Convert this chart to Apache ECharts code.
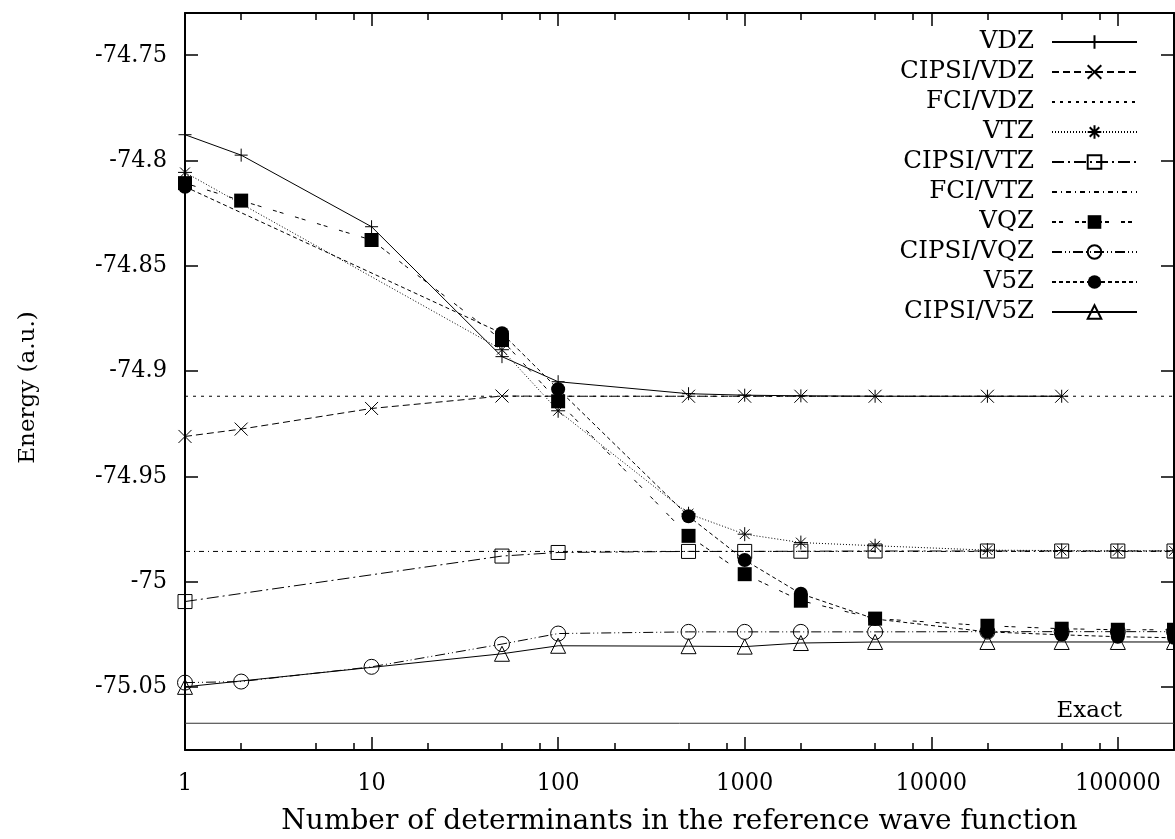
<!DOCTYPE html>
<html><head><meta charset="utf-8">
<script src="https://cdn.jsdelivr.net/npm/echarts@6/dist/echarts.min.js"></script>
<style>html,body{margin:0;padding:0;background:#fff}#chart{width:1175px;height:839px}</style>
</head><body><div id="chart"></div>
<script>
// ---------------- data ----------------
const VDZ_x = [1, 2, 10, 50, 100, 500, 1000, 2000, 5000, 20000, 50000];
const VDZ_y = [-74.7878, -74.7975, -74.8315, -74.8932, -74.9051, -74.9108, -74.9115, -74.9118, -74.912, -74.912, -74.912];

const CIPSI_VDZ_x = [1, 2, 10, 50, 100, 500, 1000, 2000, 5000, 20000, 50000];
const CIPSI_VDZ_y = [-74.9311, -74.9276, -74.9178, -74.9119, -74.912, -74.912, -74.912, -74.912, -74.912, -74.912, -74.912];

const FCI_VDZ = -74.912;

const VTZ_x = [1, 50, 100, 500, 1000, 2000, 5000, 20000, 50000, 100000, 200000];
const VTZ_y = [-74.8057, -74.8899, -74.9189, -74.9678, -74.9775, -74.9815, -74.9830, -74.9851, -74.9853, -74.9854, -74.9854];

const CIPSI_VTZ_x = [1, 50, 100, 500, 1000, 2000, 5000, 20000, 50000, 100000, 200000];
const CIPSI_VTZ_y = [-75.0095, -74.9879, -74.9862, -74.9857, -74.9857, -74.9856, -74.9855, -74.9855, -74.9855, -74.9855, -74.9855];

const FCI_VTZ = -74.9857;

const VQZ_x = [1, 2, 10, 50, 100, 500, 1000, 2000, 5000, 20000, 50000, 100000, 200000];
const VQZ_y = [-74.8108, -74.8191, -74.8378, -74.8853, -74.9144, -74.9783, -74.9965, -75.0091, -75.0176, -75.0210, -75.0224, -75.0229, -75.0229];

const CIPSI_VQZ_x = [1, 2, 10, 50, 100, 500, 1000, 2000, 5000, 20000, 50000, 100000, 200000];
const CIPSI_VQZ_y = [-75.048, -75.0475, -75.0405, -75.0297, -75.0247, -75.0239, -75.0239, -75.0239, -75.0239, -75.0238, -75.0238, -75.0238, -75.0238];

const V5Z_x = [1, 50, 100, 500, 1000, 2000, 5000, 20000, 50000, 100000, 200000];
const V5Z_y = [-74.8125, -74.8821, -74.9086, -74.969, -74.9898, -75.0058, -75.0178, -75.0239, -75.0253, -75.0262, -75.0267];

const CIPSI_V5Z_x = [1, 50, 100, 500, 1000, 2000, 5000, 20000, 50000, 100000, 200000];
const CIPSI_V5Z_y = [-75.05, -75.0343, -75.0305, -75.0307, -75.0309, -75.0292, -75.0287, -75.0287, -75.0287, -75.0287, -75.0287];

const EXACT = -75.0673;
const EXACT_LABEL = 'Exact';

const X_RANGE = [1, 200000];
const Y_RANGE = [-75.08, -74.73];
const X_MAJOR_TICKS = [1, 10, 100, 1000, 10000, 100000];
const X_MINOR_TICKS = [2, 5, 8, 20, 50, 80, 200, 500, 800, 2000, 5000, 8000, 20000, 50000, 80000];
const Y_TICKS = [-75.05, -75, -74.95, -74.9, -74.85, -74.8, -74.75];

const X_TITLE = 'Number of determinants in the reference wave function';
const Y_TITLE = 'Energy (a.u.)';

// ---------------- styling ----------------
const FONT = 'DejaVu Serif';
const TICK_FONT = "'DejaVu Serif Condensed', 'DejaVu Serif'";
const BLACK = '#000';
const SYM_PLUS = 'path://M0,5L10,5M5,0L5,10';
const SYM_CROSS = 'path://M0,0L10,10M10,0L0,10';
const SYM_STAR = 'path://M0,5L10,5M5,0L5,10M1.5,1.5L8.5,8.5M8.5,1.5L1.5,8.5';

function pairs(xs, ys) { return xs.map((x, i) => [x, ys[i]]); }

function mkSeries(name, data, dash, symbol, filled, size) {
  return {
    name, type: 'line', data, xAxisIndex: 0, yAxisIndex: 0,
    lineStyle: { color: BLACK, width: 1, type: dash },
    symbol: symbol || 'none', symbolSize: size || 14, showSymbol: !!symbol,
    itemStyle: filled
      ? { color: BLACK, borderColor: BLACK, borderWidth: 0 }
      : { color: 'rgba(0,0,0,0)', borderColor: BLACK, borderWidth: 1 },
    emphasis: { disabled: true }, silent: true, animation: false,
    clip: false
  };
}

const exactSeries = mkSeries(EXACT_LABEL, pairs(X_RANGE, [EXACT, EXACT]), 'solid', null);
exactSeries.lineStyle.color = '#333';
exactSeries.endLabel = {
  show: true, formatter: EXACT_LABEL, align: 'right', verticalAlign: 'bottom',
  distance: 0, offset: [-52, -1], fontFamily: FONT, fontSize: 23, color: BLACK
};

const series = [
  mkSeries('VDZ', pairs(VDZ_x, VDZ_y), 'solid', SYM_PLUS, false, 13),
  mkSeries('CIPSI/VDZ', pairs(CIPSI_VDZ_x, CIPSI_VDZ_y), [7, 4], SYM_CROSS, false, 13),
  mkSeries('FCI/VDZ', pairs(X_RANGE, [FCI_VDZ, FCI_VDZ]), [3, 5], null),
  mkSeries('VTZ', pairs(VTZ_x, VTZ_y), [1, 2], SYM_STAR, false, 14),
  mkSeries('CIPSI/VTZ', pairs(CIPSI_VTZ_x, CIPSI_VTZ_y), [12, 4, 2, 4], 'rect', false, 14),
  mkSeries('FCI/VTZ', pairs(X_RANGE, [FCI_VTZ, FCI_VTZ]), [5, 4, 1, 4], null),
  mkSeries('VQZ', pairs(VQZ_x, VQZ_y), [4, 3, 4, 12], 'rect', true, 14),
  mkSeries('CIPSI/VQZ', pairs(CIPSI_VQZ_x, CIPSI_VQZ_y), [10, 3, 1, 3, 1, 3], 'circle', false, 15),
  mkSeries('V5Z', pairs(V5Z_x, V5Z_y), [4, 3], 'circle', true, 14),
  mkSeries('CIPSI/V5Z', pairs(CIPSI_V5Z_x, CIPSI_V5Z_y), 'solid', 'triangle', false, 15),
  exactSeries
];

const legendNames = ['VDZ', 'CIPSI/VDZ', 'FCI/VDZ', 'VTZ', 'CIPSI/VTZ', 'FCI/VTZ', 'VQZ', 'CIPSI/VQZ', 'V5Z', 'CIPSI/V5Z'];
const noSymbol = { 'FCI/VDZ': 1, 'FCI/VTZ': 1 };

const axisLineStyle = { color: BLACK, width: 2 };
const tickStyle = { color: BLACK, width: 1.5 };
const baseX = { type: 'log', logBase: 10, min: X_RANGE[0], max: X_RANGE[1], splitLine: { show: false }, gridIndex: 0 };
const baseY = { type: 'value', min: Y_RANGE[0], max: Y_RANGE[1], splitLine: { show: false }, gridIndex: 0 };

const option = {
  animation: false,
  backgroundColor: '#fff',
  grid: { left: 185, right: 1, top: 13, bottom: 89, containLabel: false, outerBoundsMode: 'none' },
  legend: {
    orient: 'vertical', right: 37, top: 27, padding: 0, align: 'right',
    itemWidth: 85, itemHeight: 17, itemGap: 0, selectedMode: false,
    textStyle: { fontFamily: FONT, fontSize: 24.5, color: BLACK, lineHeight: 30, padding: [0, 13, 0, 0] },
    data: legendNames.map(n => noSymbol[n]
      ? { name: n, itemStyle: { color: 'rgba(0,0,0,0)', borderColor: 'rgba(0,0,0,0)', borderWidth: 0 } }
      : { name: n })
  },
  xAxis: [
    Object.assign({}, baseX, {
      position: 'bottom',
      axisLine: { show: true, onZero: false, lineStyle: axisLineStyle },
      axisTick: { show: true, inside: true, length: 13, lineStyle: tickStyle, customValues: X_MAJOR_TICKS },
      axisLabel: { show: true, customValues: X_MAJOR_TICKS, formatter: v => String(Math.round(v)),
                   margin: 21, color: BLACK, fontFamily: TICK_FONT, fontSize: 25 },
      name: X_TITLE, nameLocation: 'middle', nameGap: 58,
      nameTextStyle: { fontFamily: FONT, fontSize: 28, color: BLACK }
    }),
    Object.assign({}, baseX, {
      position: 'bottom',
      axisLine: { show: false },
      axisTick: { show: true, inside: true, length: 7, lineStyle: tickStyle, customValues: X_MINOR_TICKS },
      axisLabel: { show: false }
    }),
    Object.assign({}, baseX, {
      position: 'top',
      axisLine: { show: true, onZero: false, lineStyle: axisLineStyle },
      axisTick: { show: true, inside: true, length: 13, lineStyle: tickStyle, customValues: X_MAJOR_TICKS },
      axisLabel: { show: false }
    }),
    Object.assign({}, baseX, {
      position: 'top',
      axisLine: { show: false },
      axisTick: { show: true, inside: true, length: 7, lineStyle: tickStyle, customValues: X_MINOR_TICKS },
      axisLabel: { show: false }
    })
  ],
  yAxis: [
    Object.assign({}, baseY, {
      position: 'left',
      axisLine: { show: true, onZero: false, lineStyle: axisLineStyle },
      axisTick: { show: true, inside: true, length: 13, lineStyle: tickStyle, customValues: Y_TICKS },
      axisLabel: { show: true, customValues: Y_TICKS, formatter: v => String(+(+v).toFixed(2)),
                   margin: 18, color: BLACK, fontFamily: TICK_FONT, fontSize: 25 },
      name: Y_TITLE, nameLocation: 'middle', nameGap: 145, nameRotate: 90,
      nameTextStyle: { fontFamily: FONT, fontSize: 23, color: BLACK, padding: [0, 12, 0, 0] }
    }),
    Object.assign({}, baseY, {
      position: 'right',
      axisLine: { show: true, onZero: false, lineStyle: axisLineStyle },
      axisTick: { show: true, inside: true, length: 13, lineStyle: tickStyle, customValues: Y_TICKS },
      axisLabel: { show: false }
    })
  ],
  series
};

const chart = echarts.init(document.getElementById('chart'), null, { renderer: 'canvas' });
chart.setOption(option);
</script>
</body></html>
